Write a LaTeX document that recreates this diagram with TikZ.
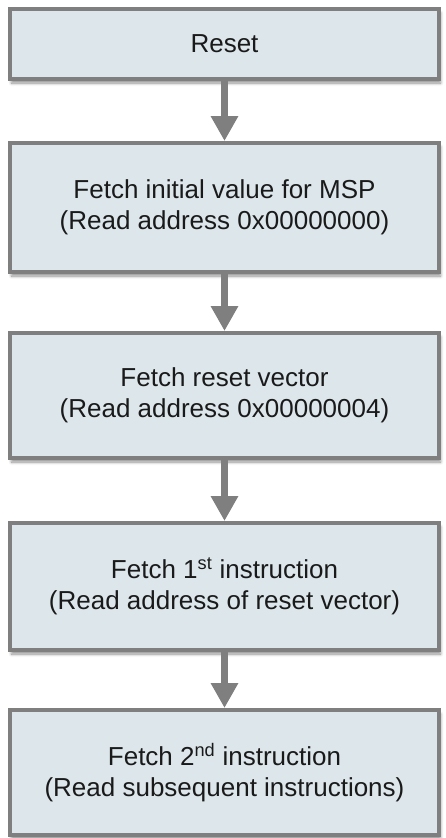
\documentclass[tikz,border=0pt]{standalone}
\usepackage{fontspec}
\setmainfont{Liberation Sans}
\usetikzlibrary{arrows.meta,shadows.blur}
\definecolor{boxfill}{HTML}{DCE6EB}
\definecolor{boxline}{HTML}{7F7F7F}
\definecolor{txt}{HTML}{1A1A1A}
\tikzset{
  stepbox/.style={draw=boxline, line width=4pt, fill=boxfill,
    minimum width=429pt, inner sep=0pt, align=center,
    text=txt, font=\fontsize{26}{31}\selectfont,
    blur shadow={shadow xshift=1.5pt, shadow yshift=-4pt,
      shadow blur radius=3pt, shadow blur steps=6, shadow opacity=45}},
  flow/.style={draw=boxline, line width=6.5pt,
    -{Triangle[width=26pt,length=25pt]}, boxline}
}
\begin{document}
\begin{tikzpicture}[x=1pt,y=-1pt]
  \useasboundingbox (0,0) rectangle (445,838);
  \node[stepbox, minimum height=70pt]  (reset) at (224.5,44)    {Reset};
  \node[stepbox, minimum height=129pt] (msp)   at (224.5,207.5) {Fetch initial value for MSP\\(Read address 0x00000000)};
  \node[stepbox, minimum height=125pt] (vec)   at (224.5,395.5) {Fetch reset vector\\(Read address 0x00000004)};
  \node[stepbox, minimum height=127pt] (first) at (224.5,586.5) {Fetch 1\textsuperscript{st} instruction\\(Read address of reset vector)};
  \node[stepbox, minimum height=125pt] (second) at (224.5,772.5) {Fetch 2\textsuperscript{nd} instruction\\(Read subsequent instructions)};
  \draw[flow] (reset.south) -- (msp.north);
  \draw[flow] (msp.south) -- (vec.north);
  \draw[flow] (vec.south) -- (first.north);
  \draw[flow] (first.south) -- (second.north);
\end{tikzpicture}
\end{document}
